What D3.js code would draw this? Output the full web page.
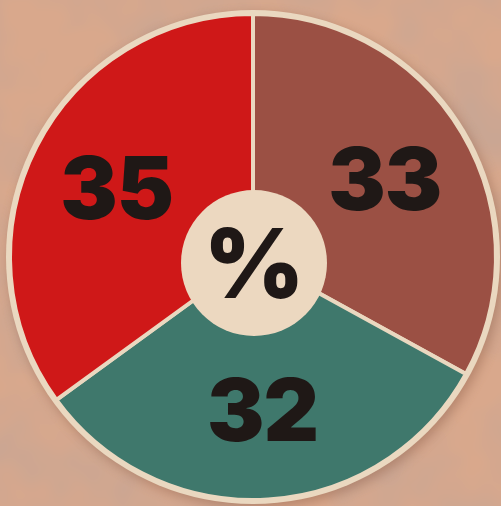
<!DOCTYPE html>
<html><head><meta charset="utf-8">
<script src="https://cdn.jsdelivr.net/npm/d3@7"></script>
<style>html,body{margin:0;padding:0;background:#d7a489;overflow:hidden}</style>
</head><body>
<script>
const categories = ["B", "C", "A"];
const values = [33, 32, 35];
const labels = ["33", "32", "35"];
const colors = ["#9b5044", "#3f786c", "#cf1818"];

const W = 501, H = 506;
const cx = 253, cy = 257, R = 245;
const svg = d3.select("body").append("svg").attr("width", W).attr("height", H);
const defs = svg.append("defs");
const f = defs.append("filter").attr("id","noise").attr("x",0).attr("y",0).attr("width","100%").attr("height","100%");
f.append("feTurbulence").attr("type","fractalNoise").attr("baseFrequency",0.012).attr("numOctaves",3).attr("seed",4).attr("result","t");
f.append("feColorMatrix").attr("in","t").attr("type","matrix")
 .attr("values","0 0 0 0 0.35  0 0 0 0 0.35  0 0 0 0 0.38  0 0 0 0.55 -0.18");
const sh = defs.append("filter").attr("id","shadow").attr("x","-20%").attr("y","-20%").attr("width","140%").attr("height","140%");
sh.append("feGaussianBlur").attr("stdDeviation",6);

svg.append("rect").attr("width",W).attr("height",H).attr("fill","#d9a88c");
svg.append("rect").attr("width",W).attr("height",H).attr("filter","url(#noise)");

const g = svg.append("g").attr("transform",`translate(${cx},${cy})`);
g.append("circle").attr("r",R+2).attr("cx",3).attr("cy",4).attr("fill","#8a5a45").attr("opacity",0.45).attr("filter","url(#shadow)");
g.append("circle").attr("r",R+2).attr("fill","#ead8c0");

const pie = d3.pie().sort(null).value(d => d)(values);
const arc = d3.arc().innerRadius(0).outerRadius(R - 2);
g.selectAll("path.s").data(pie).join("path").attr("class","s")
 .attr("d", arc).attr("fill", (d,i) => colors[i])
 .attr("stroke","#ead8c0").attr("stroke-width",4).attr("stroke-linejoin","round");

const lab = d3.arc().innerRadius(153).outerRadius(153);
g.selectAll("text.v").data(pie).join("text").attr("class","v")
 .attr("transform", d => `translate(${lab.centroid(d)})`)
 .attr("text-anchor","middle").attr("dy","0.36em")
 .attr("font-family","Inter, 'DejaVu Sans', sans-serif").attr("font-weight",900)
 .attr("font-size",86).attr("fill","#1f1816").attr("letter-spacing",-1)
 .text((d,i) => labels[i]);

g.append("circle").attr("cx",1).attr("cy",6).attr("r",73).attr("fill","#ecd8c0");
g.append("text").attr("x",1).attr("y",6).attr("dy","0.36em").attr("text-anchor","middle")
 .attr("font-family","Inter, 'DejaVu Sans', sans-serif").attr("font-weight",900)
 .attr("font-size",96).attr("fill","#1f1816").text("%");
</script>
</body></html>
